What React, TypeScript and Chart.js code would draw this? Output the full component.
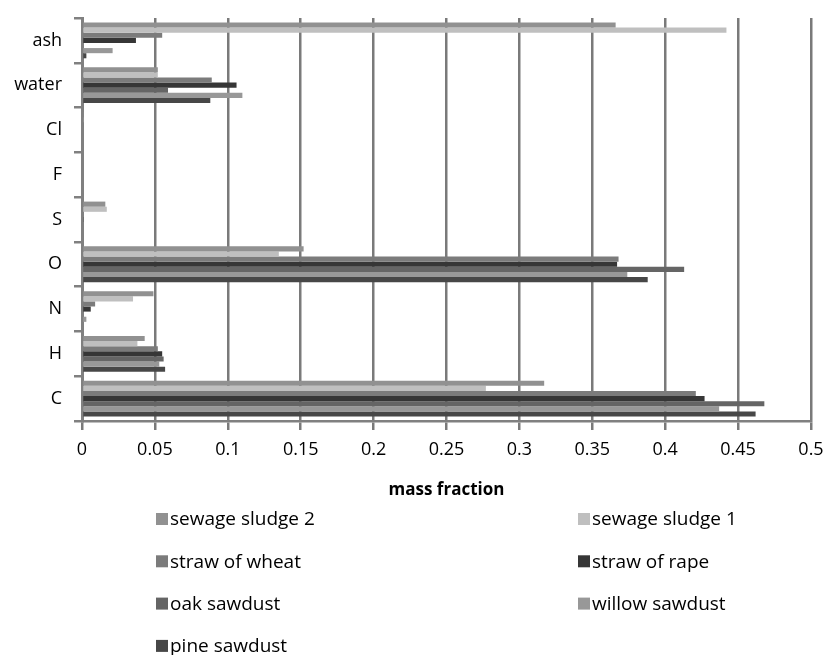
import React, { useEffect, useRef } from "react";
import { Chart, registerables } from "chart.js";

Chart.register(...registerables);

const categories = ["ash", "water", "Cl", "F", "S", "O", "N", "H", "C"];

const seriesNames = [
  "sewage sludge 2",
  "sewage sludge 1",
  "straw of wheat",
  "straw of rape",
  "oak sawdust",
  "willow sawdust",
  "pine sawdust",
];

const sewageSludge2 = [0.366, 0.052, 0.001, 0, 0.016, 0.152, 0.049, 0.043, 0.317];
const sewageSludge1 = [0.442, 0.052, 0.001, 0, 0.017, 0.135, 0.035, 0.038, 0.277];
const strawOfWheat = [0.055, 0.089, 0.001, 0, 0, 0.368, 0.009, 0.052, 0.421];
const strawOfRape = [0.037, 0.106, 0, 0, 0.001, 0.367, 0.006, 0.055, 0.427];
const oakSawdust = [0, 0.059, 0, 0, 0, 0.413, 0, 0.056, 0.468];
const willowSawdust = [0.021, 0.11, 0, 0, 0, 0.374, 0.003, 0.053, 0.437];
const pineSawdust = [0.003, 0.088, 0, 0, 0, 0.388, 0, 0.057, 0.462];

const seriesValues = [
  sewageSludge2,
  sewageSludge1,
  strawOfWheat,
  strawOfRape,
  oakSawdust,
  willowSawdust,
  pineSawdust,
];

const seriesColors = ["#919191", "#bfbfbf", "#7b7b7b", "#363636", "#656565", "#989898", "#474747"];

const xTickLabels = ["0", "0.05", "0.1", "0.15", "0.2", "0.25", "0.3", "0.35", "0.4", "0.45", "0.5"];

const FONT = "'Open Sans', 'Noto Sans', sans-serif";

const legendPlugin = {
  id: "gridLegend",
  afterDraw(chart: any) {
    const ctx = chart.ctx;
    const area = chart.chartArea;
    ctx.save();
    ctx.font = `19px ${FONT}`;
    ctx.textBaseline = "middle";
    ctx.textAlign = "left";
    const colX = [156, 578];
    const startY = area.bottom + 98;
    const rowH = 42.3;
    seriesNames.forEach((name, i) => {
      const col = i % 2;
      const row = Math.floor(i / 2);
      const x = colX[col];
      const y = startY + row * rowH;
      ctx.fillStyle = seriesColors[i];
      ctx.fillRect(x, y - 6, 12, 12);
      ctx.fillStyle = "#000";
      ctx.fillText(name, x + 14, y + 1);
    });
    ctx.restore();
  },
};

export default function App() {
  const ref = useRef<HTMLCanvasElement | null>(null);
  useEffect(() => {
    if (!ref.current) return;
    const chart = new Chart(ref.current, {
      type: "bar",
      data: {
        labels: categories,
        datasets: seriesNames.map((name, i) => ({
          label: name,
          data: seriesValues[i],
          backgroundColor: seriesColors[i],
          borderWidth: 0,
          barPercentage: 1,
          categoryPercentage: 0.8,
        })),
      },
      options: {
        indexAxis: "y",
        animation: false,
        responsive: false,
        maintainAspectRatio: false,
        layout: { padding: { left: 0, top: 18, right: 16, bottom: 154 } },
        plugins: {
          legend: { display: false },
          tooltip: { enabled: false },
        },
        scales: {
          x: {
            type: "linear",
            min: 0,
            max: 0.5,
            ticks: {
              stepSize: 0.05,
              color: "#000",
              font: { family: FONT, size: 18 },
              padding: 9,
              maxRotation: 0,
              callback: (_v: any, idx: number) => xTickLabels[idx],
            },
            grid: {
              color: "#7a7a7a",
              lineWidth: 2.5,
              drawTicks: true,
              tickLength: 9,
            },
            border: { display: true, color: "#808080", width: 2.5 },
            title: {
              display: true,
              text: "mass fraction",
              color: "#000",
              font: { family: FONT, size: 17, weight: "bold" },
              padding: { top: 4, bottom: 1 },
            },
            afterFit: (s: any) => {
              s.height = 80;
              s.paddingRight = 0;
              s.paddingLeft = 0;
            },
          },
          y: {
            type: "category",
            offset: true,
            ticks: {
              color: "#000",
              font: { family: FONT, size: 18 },
              padding: 12,
            },
            grid: {
              offset: true,
              drawOnChartArea: false,
              drawTicks: true,
              tickLength: 8,
              color: "#808080",
              lineWidth: 2.5,
            },
            border: { display: true, color: "#808080", width: 3 },
            afterFit: (s: any) => {
              s.width = 82;
              s.paddingTop = 0;
              s.paddingBottom = 0;
            },
          },
        },
      } as any,
      plugins: [legendPlugin],
    });
    return () => chart.destroy();
  }, []);
  return (
    <div style={{ position: "absolute", left: 0, top: 0, width: 827, height: 655, background: "#fff" }}>
      <canvas ref={ref} width={827} height={655} style={{ display: "block" }} />
    </div>
  );
}
